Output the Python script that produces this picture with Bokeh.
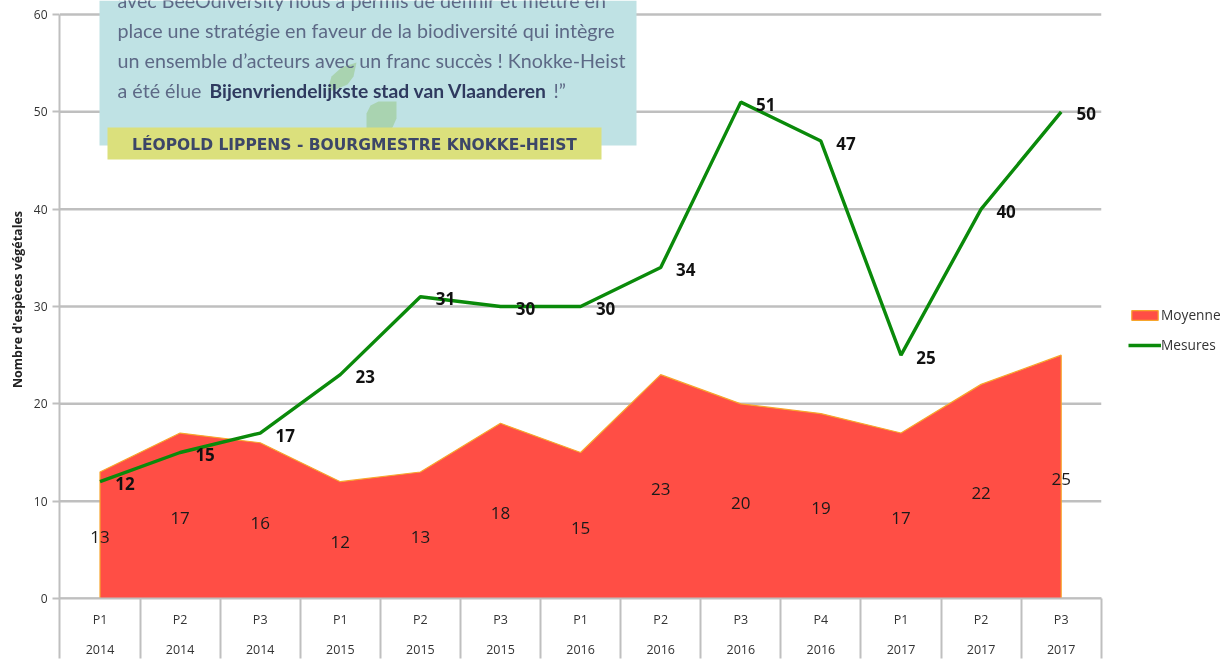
from bokeh.plotting import figure
from bokeh.models import Range1d, LinearAxis, FixedTicker, Legend, LegendItem
from bokeh.core.properties import value
from bokeh.embed import file_html
from bokeh.resources import INLINE

periods = ["P1","P2","P3","P1","P2","P3","P1","P2","P3","P4","P1","P2","P3"]
years = ["2014","2014","2014","2015","2015","2015","2016","2016","2016","2016","2017","2017","2017"]
moyenne = [13,17,16,12,13,18,15,23,20,19,17,22,25]
mesures = [12,15,17,23,31,30,30,34,51,47,25,40,50]
y_ticks = [0,10,20,30,40,50,60]
y_title = "Nombre d'espèces végétales"
quote_lines = ["avec BeeOdiversity nous a permis de définir et mettre en",
               "place une stratégie en faveur de la biodiversité qui intègre",
               "un ensemble d’acteurs avec un franc succès ! Knokke-Heist",
               "a été élue"]
quote_bold = "Bijenvriendelijkste stad van Vlaanderen"
quote_end = "!”"
signature = "LÉOPOLD LIPPENS - BOURGMESTRE KNOKKE-HEIST"

W, H = 1221, 659
X0, DX = 99.5, 80.1
Y0, DY = 598.0, 9.733
def fx(px): return (px - X0) / DX
def fy(py): return (Y0 - py) / DY

xs = list(range(len(periods)))
GREY = "#bfbfbf"
TXT = "#333333"

p = figure(width=W, height=H, output_backend="svg", toolbar_location=None,
           x_range=Range1d(fx(59), fx(W)), y_range=Range1d(0, fy(0)),
           min_border_left=59, min_border_right=0, min_border_top=0, min_border_bottom=61,
           outline_line_color=None, background_fill_color="white", border_fill_color="white",
           x_axis_location=None, y_axis_location=None)
p.styles = {"position": "fixed", "left": "0", "top": "0"}
p.xgrid.visible = False
p.ygrid.visible = False

yax = LinearAxis(ticker=FixedTicker(ticks=y_ticks), bounds=(0, 60))
yax.axis_line_color = GREY; yax.axis_line_width = 2
yax.major_tick_line_color = GREY; yax.major_tick_line_width = 2
yax.major_tick_in = 0; yax.major_tick_out = 7
yax.minor_tick_line_color = None
yax.major_label_text_font = "Open Sans"; yax.major_label_text_font_size = "12px"
yax.major_label_text_color = TXT; yax.major_label_standoff = 5
yax.axis_label = y_title
yax.axis_label_text_font = "Open Sans"; yax.axis_label_text_font_style = "bold"
yax.axis_label_text_font_size = "12.5px"; yax.axis_label_text_color = "#222222"
yax.axis_label_standoff = 5
p.add_layout(yax, "left")

xax = LinearAxis(ticker=FixedTicker(ticks=xs, minor_ticks=[i - 0.5 for i in range(len(xs) + 1)]),
                 bounds=(-0.5, 12.5))
xax.major_label_overrides = {i: s for i, s in enumerate(periods)}
xax.axis_line_color = GREY; xax.axis_line_width = 2
xax.major_tick_line_color = None
xax.major_tick_in = 0; xax.major_tick_out = 0
xax.minor_tick_line_color = GREY; xax.minor_tick_line_width = 2
xax.minor_tick_in = 0; xax.minor_tick_out = 60
xax.major_label_text_font = "Open Sans"; xax.major_label_text_font_size = "12.5px"
xax.major_label_text_color = TXT; xax.major_label_standoff = -48
p.add_layout(xax, "below")

xax2 = LinearAxis(ticker=FixedTicker(ticks=xs), bounds=(-0.5, 12.5))
xax2.major_label_overrides = {i: s for i, s in enumerate(years)}
xax2.axis_line_color = None; xax2.major_tick_line_color = None; xax2.minor_tick_line_color = None
xax2.major_tick_in = 0; xax2.major_tick_out = 0
xax2.major_label_text_font = "Open Sans"; xax2.major_label_text_font_size = "12.5px"
xax2.major_label_text_color = TXT; xax2.major_label_standoff = 14
p.add_layout(xax2, "below")

# horizontal gridlines stop at the end of the category axis, behind the area
p.segment(x0=[-0.5] * len(y_ticks), x1=[12.5] * len(y_ticks), y0=y_ticks, y1=y_ticks,
          line_color=GREY, line_width=2.5)

area = p.patch([0] + xs + [xs[-1]], [0] + moyenne + [0],
               fill_color="#ff4e45", line_color="#f7a62c", line_width=1.2)
ln = p.line(xs, mesures, line_color="#0a8a0a", line_width=3.4)

p.text(xs, [v / 2 for v in moyenne], text=[str(v) for v in moyenne], y_offset=2, text_align="center",
       text_baseline="middle", text_font=value("Open Sans"), text_font_size="17px", text_color="#1a1a1a")
p.text(xs, mesures, text=[str(v) for v in mesures], x_offset=25, y_offset=2, text_align="center",
       text_baseline="middle", text_font=value("Open Sans"), text_font_style="bold",
       text_font_size="17px", text_color="#111111")

# quote panel
p.quad(left=fx(99), right=fx(636), top=fy(0), bottom=fy(145), fill_color="#bfe2e4", line_color=None)
p.patch([fx(v) for v in (327, 331, 341, 356, 353, 347, 333, 328)],
        [fy(v) for v in (90, 76, 67, 62, 76, 84, 90, 90)], fill_color="#a9d3b0", line_color=None)
p.patch([fx(v) for v in (396, 378, 370, 366, 366, 385, 392, 396)],
        [fy(v) for v in (101, 101, 105, 113, 131, 131, 127, 118)], fill_color="#a9d3b0", line_color=None)
kw = dict(text_baseline="middle", text_font=value("Lato"), text_font_size="19.7px")
for py, s in zip((0, 30, 60, 90), quote_lines):
    p.text([fx(117)], [fy(py)], text=[s], text_color="#5d6986", **kw)
kwb = dict(kw, text_font_size="19.3px")
p.text([fx(209)], [fy(90)], text=[quote_bold], text_color="#2f3a5f", text_font_style="bold", **kwb)
p.text([fx(553)], [fy(90)], text=[quote_end], text_color="#5d6986", **kw)
p.quad(left=fx(107), right=fx(601), top=fy(127), bottom=fy(159), fill_color="#dbe07c", line_color=None)
p.text([fx(354)], [fy(144)], text=[signature], text_align="center", text_baseline="middle",
       text_font=value("DejaVu Sans"), text_font_style="bold", text_font_size="15.5px", text_color="#3c4668")

leg = Legend(items=[LegendItem(label="Moyenne", renderers=[area]), LegendItem(label="Mesures", renderers=[ln])],
             location=(1069, 244), background_fill_alpha=0, border_line_color=None,
             padding=0, margin=0, spacing=11, glyph_width=33, glyph_height=12, label_standoff=0,
             label_text_font="Open Sans", label_text_font_size="13.7px", label_text_color=TXT)
p.add_layout(leg, "center")

open("out.html", "w").write(file_html(p, INLINE))
